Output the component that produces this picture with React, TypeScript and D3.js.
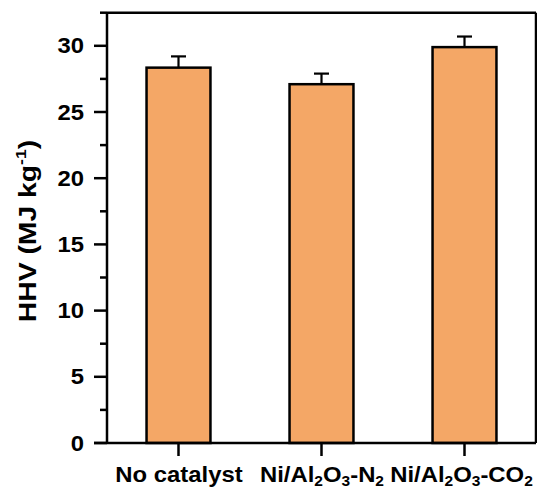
import React from "react";
import * as d3 from "d3";

const categories = ["No catalyst", "Ni/Al2O3-N2", "Ni/Al2O3-CO2"];
const hhvValues = [28.35, 27.1, 29.9];
const hhvErrors = [0.85, 0.8, 0.8];
const yMajorTicks = [0, 5, 10, 15, 20, 25, 30];
const yMinorTicks = [2.5, 7.5, 12.5, 17.5, 22.5, 27.5, 32.5];

const W = 537;
const H = 490;
const left = 107;
const right = 536;
const top = 12.7;
const bottom = 443;
const barFill = "#F4A766";
const sx = 1.11;
const subDy = 4;

function CatLabel({ name }: { name: string }) {
  if (name === "No catalyst") return <tspan>{name}</tspan>;
  const parts: React.ReactNode[] = [];
  const re = /(\d)/g;
  let last = 0;
  let m: RegExpExecArray | null;
  let k = 0;
  let lowered = false;
  while ((m = re.exec(name))) {
    if (m.index > last) {
      parts.push(
        <tspan key={k++} dy={lowered ? -subDy : 0}>
          {name.slice(last, m.index)}
        </tspan>
      );
      lowered = false;
    }
    parts.push(
      <tspan key={k++} fontSize={14} dy={subDy}>
        {m[1]}
      </tspan>
    );
    lowered = true;
    last = m.index + 1;
  }
  if (last < name.length) parts.push(<tspan key={k++} dy={lowered ? -subDy : 0}>{name.slice(last)}</tspan>);
  return <>{parts}</>;
}

export default function App() {
  const x = d3.scalePoint<string>().domain(categories).range([left, right]).padding(0.5);
  const y = d3.scaleLinear().domain([0, 32.5]).range([bottom, top]);
  const barW = x.step() * 0.447;
  const font = "'Liberation Sans', Arial, sans-serif";
  const sw = 2.5;
  const labelX = [179, 322, 461.5];

  return (
    <svg
      width={W}
      height={H}
      style={{ position: "absolute", left: 0, top: 0, background: "#fff" }}
      fontFamily={font}
      fontWeight="bold"
    >
      {categories.map((c, i) => {
        const cx = x(c)!;
        return (
          <g key={c}>
            <rect
              x={cx - barW / 2}
              y={y(hhvValues[i])}
              width={barW}
              height={y(0) - y(hhvValues[i])}
              fill={barFill}
              stroke="#000"
              strokeWidth={sw}
            />
            <line x1={cx} x2={cx} y1={y(hhvValues[i])} y2={y(hhvValues[i] + hhvErrors[i])} stroke="#000" strokeWidth={2.2} />
            <line
              x1={cx - 7.5}
              x2={cx + 7.5}
              y1={y(hhvValues[i] + hhvErrors[i])}
              y2={y(hhvValues[i] + hhvErrors[i])}
              stroke="#000"
              strokeWidth={2.2}
            />
          </g>
        );
      })}

      <line x1={left} x2={left} y1={top} y2={bottom} stroke="#000" strokeWidth={sw} />
      <line x1={left - 13} x2={right} y1={bottom} y2={bottom} stroke="#000" strokeWidth={sw} />
      <line x1={left} x2={right} y1={top} y2={top} stroke="#000" strokeWidth={sw} />
      <line x1={right} x2={right} y1={top} y2={bottom} stroke="#000" strokeWidth={sw} />

      {yMajorTicks.map((t) => (
        <g key={"M" + t}>
          <line x1={left - 13} x2={left} y1={y(t)} y2={y(t)} stroke="#000" strokeWidth={sw} />
          <text
            transform={`translate(${left - 23},${y(t) + 7.5}) scale(${sx},1)`}
            textAnchor="end"
            fontSize={21.5}
            fill="#000"
          >
            {t}
          </text>
        </g>
      ))}
      {yMinorTicks.map((t) => (
        <line key={"m" + t} x1={left - 7} x2={left} y1={y(t)} y2={y(t)} stroke="#000" strokeWidth={sw} />
      ))}

      {categories.map((c, i) => (
        <g key={"x" + c}>
          <line x1={x(c)!} x2={x(c)!} y1={bottom} y2={bottom + 13} stroke="#000" strokeWidth={sw} />
          <text
            transform={`translate(${labelX[i]},${482}) scale(${sx},1)`}
            textAnchor="middle"
            fontSize={21.5}
            fill="#000"
          >
            <CatLabel name={c} />
          </text>
        </g>
      ))}

      <text
        transform={`translate(36,231) rotate(-90) scale(1.18,1)`}
        textAnchor="middle"
        fontSize={24}
        fill="#000"
      >
        HHV (MJ kg
        <tspan fontSize={15} dy={-10}>
          -1
        </tspan>
        <tspan dy={10}>)</tspan>
      </text>
    </svg>
  );
}
